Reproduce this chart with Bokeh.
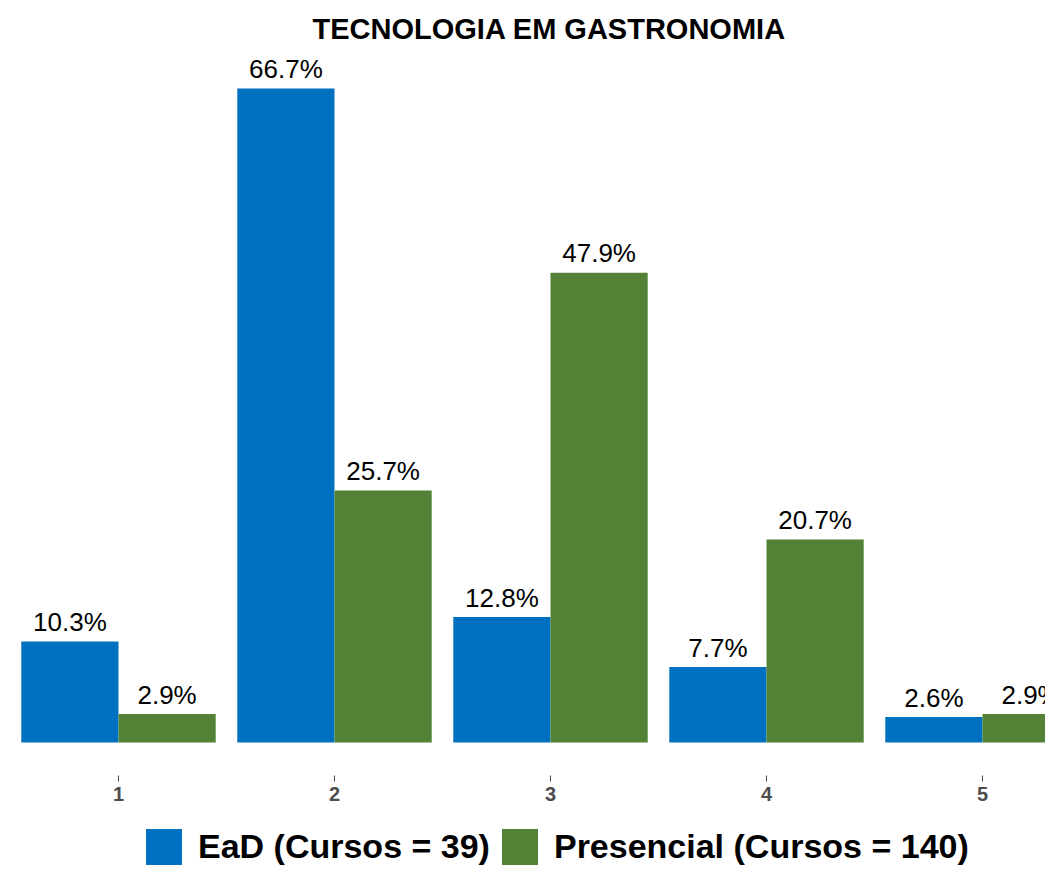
from bokeh.plotting import figure
from bokeh.layouts import column
from bokeh.models import ColumnDataSource, Range1d, FixedTicker, Legend, LegendItem
from bokeh.core.properties import value
from bokeh.embed import file_html
from bokeh.resources import INLINE

# ---- data ----
categories = [1, 2, 3, 4, 5]
tick_labels = ["1", "2", "3", "4", "5"]
ead = [10.3, 66.7, 12.8, 7.7, 2.6]
presencial = [2.9, 25.7, 47.9, 20.7, 2.9]
series_names = ["EaD (Cursos = 39)", "Presencial (Cursos = 140)"]
colors = ["#0070C0", "#538135"]
title_text = "TECNOLOGIA EM GASTRONOMIA"

FONT = "Liberation Sans"
bar_w = 0.45
label_gap = 0.45   # gap between bar top and its label, in data units

src_a = ColumnDataSource(dict(
    x=[c - bar_w / 2 for c in categories], y=ead,
    ly=[v + label_gap for v in ead],
    lab=[f"{v:.1f}%" for v in ead]))
src_b = ColumnDataSource(dict(
    x=[c + bar_w / 2 for c in categories], y=presencial,
    ly=[v + label_gap for v in presencial],
    lab=[f"{v:.1f}%" for v in presencial]))

p = figure(width=1045, height=822, output_backend="svg", toolbar_location=None,
           x_range=Range1d(0.4537, 5.2917), y_range=Range1d(-3.366, 70.58),
           y_axis_location=None,
           min_border_left=0, min_border_right=0, min_border_top=50,
           min_border_bottom=47)

p.background_fill_color = "#FFFFFF"
p.border_fill_color = "#FFFFFF"
p.outline_line_color = None
p.xgrid.grid_line_color = None
p.ygrid.grid_line_color = None

ra = p.vbar(x="x", top="y", bottom=0, width=bar_w, source=src_a,
            fill_color=colors[0], line_color=None)
rb = p.vbar(x="x", top="y", bottom=0, width=bar_w, source=src_b,
            fill_color=colors[1], line_color=None)

for s in (src_a, src_b):
    p.text(x="x", y="ly", text="lab", source=s, text_align="center",
           text_baseline="bottom",
           text_font=value(FONT), text_font_size="26px", text_color="#000000")

# title
p.title.text = title_text
p.title.align = "left"
p.title.offset = 312
p.title.text_font = FONT
p.title.text_font_size = "29px"
p.title.text_font_style = "bold"
p.title.text_color = "#000000"
p.title.standoff = 12

# x axis
ax = p.xaxis[0]
ax.ticker = FixedTicker(ticks=categories)
ax.major_label_overrides = {c: t for c, t in zip(categories, tick_labels)}
ax.axis_line_color = None
ax.major_tick_in = 0
ax.major_tick_out = 6
ax.major_tick_line_color = "#444444"
ax.minor_tick_line_color = None
ax.major_label_standoff = 5
ax.major_label_text_font = FONT
ax.major_label_text_font_style = "bold"
ax.major_label_text_font_size = "20px"
ax.major_label_text_color = "#4D4D4D"

# ---- legend strip below the chart ----
lf = figure(width=1045, height=44, output_backend="svg", toolbar_location=None,
            x_range=Range1d(0, 1), y_range=Range1d(0, 1),
            x_axis_location=None, y_axis_location=None,
            min_border=0)
lf.background_fill_color = "#FFFFFF"
lf.border_fill_color = "#FFFFFF"
lf.outline_line_color = None
lf.xgrid.grid_line_color = None
lf.ygrid.grid_line_color = None
# zero-size key renderers (only their colours are used by the legend swatches)
ka = lf.vbar(x=[0.0], top=[0.0], bottom=[0.0], width=0.0,
             fill_color=colors[0], line_color=None)
kb = lf.vbar(x=[0.0], top=[0.0], bottom=[0.0], width=0.0,
             fill_color=colors[1], line_color=None)

legend = Legend(items=[LegendItem(label=series_names[0], renderers=[ka]),
                       LegendItem(label=series_names[1], renderers=[kb])],
                orientation="horizontal", location=(141, -3),
                glyph_width=45, glyph_height=45, label_standoff=12, spacing=7,
                padding=0, margin=0, border_line_color=None,
                background_fill_alpha=0,
                label_text_font=FONT, label_text_font_style="bold",
                label_text_font_size="34px", label_text_color="#000000")
lf.add_layout(legend, "center")

layout = column(p, lf, spacing=0)
open("out.html", "w").write(file_html(layout, INLINE))
